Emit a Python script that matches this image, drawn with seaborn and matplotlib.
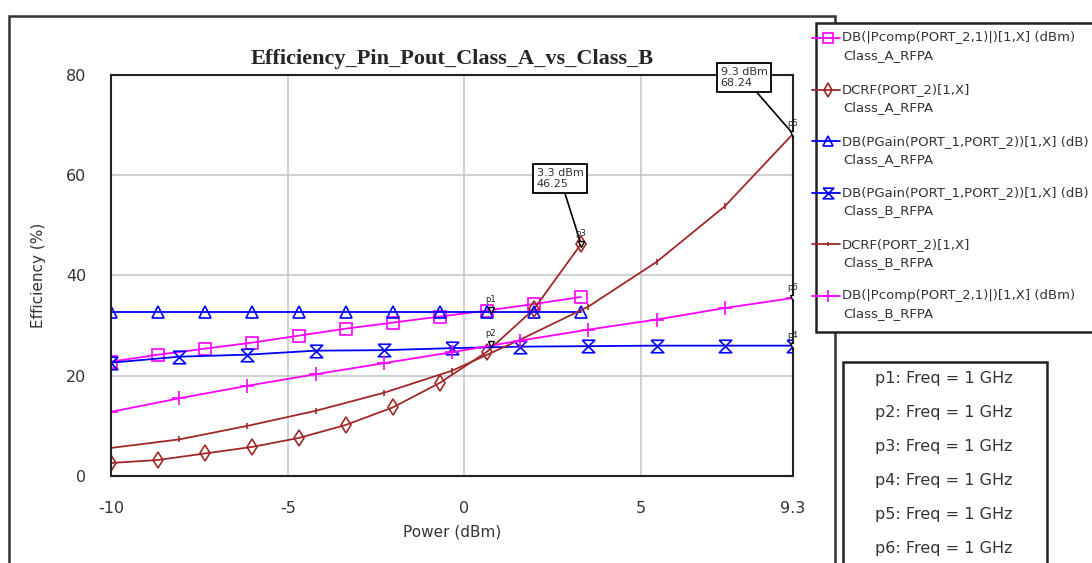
import matplotlib
matplotlib.use("Agg")
import matplotlib.pyplot as plt
from matplotlib.lines import Line2D
from matplotlib.patches import Rectangle
from matplotlib.path import Path
import seaborn as sns
import pandas as pd

# swept input power (dBm)
x_a = [-10, -8.67, -7.34, -6.01, -4.68, -3.35, -2.02, -0.69, 0.64, 1.97, 3.3]
x_b = [-10, -8.07, -6.14, -4.21, -2.28, -0.35, 1.58, 3.51, 5.44, 7.37, 9.3]

pcomp_a = [22.8, 24.2, 25.4, 26.6, 28.0, 29.4, 30.6, 31.8, 33.0, 34.3, 35.7]
dcrf_a = [2.6, 3.2, 4.5, 5.8, 7.6, 10.2, 13.7, 18.6, 24.8, 33.3, 46.25]
pgain_a = [32.8, 32.8, 32.8, 32.8, 32.8, 32.8, 32.8, 32.8, 32.8, 32.8, 32.8]
pgain_b = [22.6, 23.8, 24.2, 25.0, 25.1, 25.5, 25.8, 25.9, 26.0, 26.0, 26.0]
dcrf_b = [5.6, 7.3, 10.0, 13.0, 16.6, 21.0, 27.2, 33.8, 42.7, 53.8, 68.24]
pcomp_b = [12.8, 15.5, 18.0, 20.3, 22.5, 24.7, 27.0, 29.2, 31.2, 33.5, 35.5]

legend_names = [
    ("DB(|Pcomp(PORT_2,1)|)[1,X] (dBm)", "Class_A_RFPA"),
    ("DCRF(PORT_2)[1,X]", "Class_A_RFPA"),
    ("DB(PGain(PORT_1,PORT_2))[1,X] (dB)", "Class_A_RFPA"),
    ("DB(PGain(PORT_1,PORT_2))[1,X] (dB)", "Class_B_RFPA"),
    ("DCRF(PORT_2)[1,X]", "Class_B_RFPA"),
    ("DB(|Pcomp(PORT_2,1)|)[1,X] (dBm)", "Class_B_RFPA"),
]
marker_labels = ["p1: Freq = 1 GHz", "p2: Freq = 1 GHz", "p3: Freq = 1 GHz",
                 "p4: Freq = 1 GHz", "p5: Freq = 1 GHz", "p6: Freq = 1 GHz"]
# marker points p1..p6 (x, y)
mk_x = [0.74, 0.74, 3.3, 9.3, 9.3, 9.3]
mk_y = [33.2, 26.3, 46.25, 26.0, 68.24, 35.5]

magenta = "#ff00ff"
brown = "#a02828"
blue = "#0000ff"
hourglass = Path([(-0.5, 0.5), (0.5, 0.5), (-0.5, -0.5), (0.5, -0.5), (-0.5, 0.5)])

series = [
    (x_a, pcomp_a, magenta, "s", 9),
    (x_a, dcrf_a, brown, "d", 8),
    (x_a, pgain_a, blue, "^", 8),
    (x_b, pgain_b, blue, hourglass, 9),
    (x_b, dcrf_b, brown, "|", 4),
    (x_b, pcomp_b, magenta, "+", 10),
]

sns.set_style("whitegrid")
plt.rcParams["font.family"] = ["DejaVu Sans"]

fig = plt.figure(figsize=(10.92, 5.63), dpi=100)
ax = fig.add_axes([0.1017, 0.1545, 0.6245, 0.7125])

for xs, ys, col, mk, ms in series:
    df = pd.DataFrame({"x": xs, "y": ys})
    sns.lineplot(data=df, x="x", y="y", ax=ax, color=col, marker=mk, ms=ms,
                 mfc="none", mec=col, mew=1.2, lw=1.3, legend=False)

# marker points
ax.plot(mk_x, mk_y, ls="none", marker="v", ms=5, mfc="white", mec="black", mew=1, zorder=5)
for i, (px, py) in enumerate(zip(mk_x, mk_y)):
    ax.text(px, py + 1.2, f"p{i + 1}", fontsize=6, ha="center", va="bottom", color="#222222", zorder=6)

box = dict(boxstyle="square,pad=0.35", fc="white", ec="black", lw=1.3)
ax.annotate("3.3 dBm\n46.25", xy=(3.3, 46.25), xytext=(2.05, 61.5), fontsize=8,
            ha="left", va="top", bbox=box, color="#333333",
            arrowprops=dict(arrowstyle="-", color="black", lw=1.2, shrinkA=0, shrinkB=2))
ax.annotate("9.3 dBm\n68.24", xy=(9.3, 68.24), xytext=(7.25, 81.6), fontsize=8,
            ha="left", va="top", bbox=box, color="#333333", annotation_clip=False,
            arrowprops=dict(arrowstyle="-", color="black", lw=1.2, shrinkA=0, shrinkB=2))

ax.set_xlim(-10, 9.3)
ax.set_ylim(0, 80)
ax.set_xticks([-10, -5, 0, 5, 9.3])
ax.set_xticklabels(["-10", "-5", "0", "5", "9.3"])
ax.set_yticks([0, 20, 40, 60, 80])
ax.tick_params(length=0, labelsize=11.5, colors="#333333", pad=18)
ax.grid(True, color="#c8c8c8", lw=1.2)
for s in ax.spines.values():
    s.set_color("#222222")
    s.set_linewidth(1.5)
ax.set_xlabel("Power (dBm)", fontsize=11, color="#333333", labelpad=6)
ax.set_ylabel("Efficiency (%)", fontsize=11, color="#333333", labelpad=14)
ax.set_title("Efficiency_Pin_Pout_Class_A_vs_Class_B", fontsize=16, fontweight="bold",
             family="Liberation Serif", pad=8)

# outer frame
fig.add_artist(Rectangle((0.008, -0.02), 0.757, 0.991, transform=fig.transFigure,
                         fill=False, ec="#333333", lw=1.8, zorder=0))

# legend panel
fig.add_artist(Rectangle((0.747, 0.41), 0.4, 0.55, transform=fig.transFigure,
                         fc="white", ec="#222222", lw=1.8, zorder=3))
for i, ((l1, l2), (xs, ys, col, mk, ms)) in enumerate(zip(legend_names, series)):
    yy = 1 - (38 + 51.6 * i) / 563
    fig.add_artist(Line2D([812 / 1092, 840 / 1092], [yy, yy], transform=fig.transFigure,
                          color=col, lw=1.3, zorder=4))
    fig.add_artist(Line2D([828 / 1092], [yy], transform=fig.transFigure, ls="none",
                          marker=mk, ms=ms * 0.85, mfc="none", mec=col, mew=1.2, zorder=4))
    fig.text(842 / 1092, yy, l1, fontsize=9.5, va="center", ha="left", color="#333333", zorder=5)
    fig.text(843 / 1092, yy - 18 / 563, l2, fontsize=9.5, va="center", ha="left", color="#333333", zorder=5)

# marker panel
fig.add_artist(Rectangle((843 / 1092, -0.05), 204 / 1092, 1 - 362 / 563 + 0.05,
                         transform=fig.transFigure, fc="white", ec="#222222", lw=1.8, zorder=3))
for i, t in enumerate(marker_labels):
    fig.text(944 / 1092, 1 - (378 + 34 * i) / 563, t, fontsize=11.5, ha="center", va="center",
             color="#333333", zorder=5)

fig.savefig("out.png", dpi=100)
